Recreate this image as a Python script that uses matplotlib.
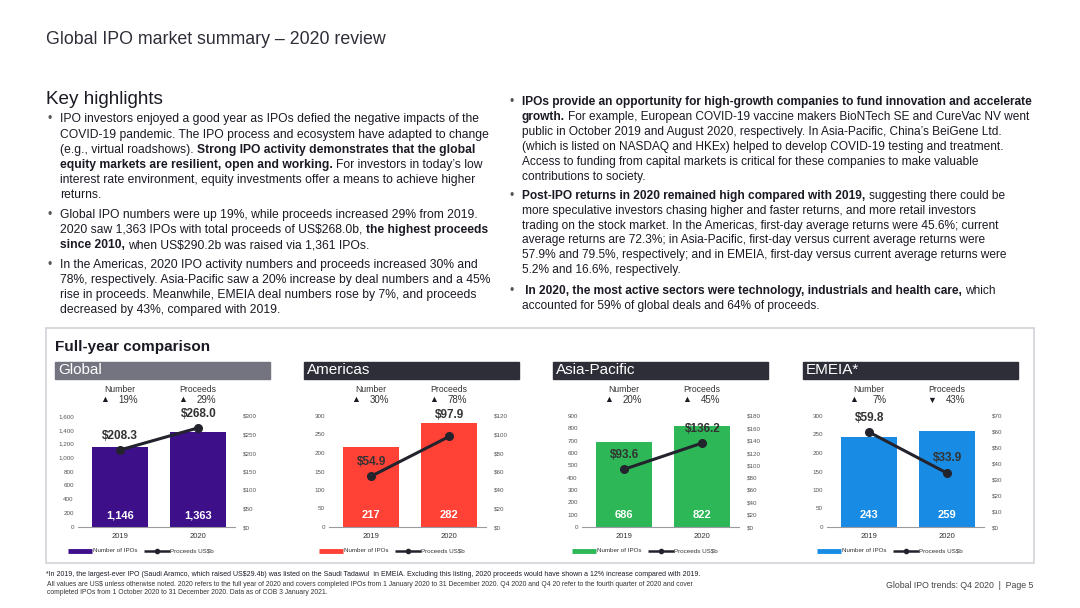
import matplotlib
matplotlib.use('Agg')
import matplotlib.pyplot as plt
from matplotlib.patches import Rectangle

plt.rcParams['font.family'] = ['Liberation Sans', 'DejaVu Sans']

# chart data
regions = ["Global", "Americas", "Asia-Pacific", "EMEIA*"]
years = ["2019", "2020"]
ipo_counts = [[1146, 1363], [217, 282], [686, 822], [243, 259]]
proceeds = [[208.3, 268.0], [54.9, 97.9], [93.6, 136.2], [59.8, 33.9]]
number_change = ["19%", "30%", "20%", "7%"]
number_up = [True, True, True, True]
proceeds_change = ["29%", "78%", "45%", "43%"]
proceeds_up = [True, True, True, False]
count_axis_max = [1600, 300, 900, 300]
count_axis_step = [200, 50, 100, 50]
usd_axis_max = [300, 120, 180, 70]
usd_axis_step = [50, 20, 20, 10]

bar_colors = ["#3d108a", "#ff4136", "#2db757", "#188ce5"]
header_colors = ["#747480", "#2e2e38", "#2e2e38", "#2e2e38"]
TEXT = "#1a1a24"
LINE = "#23232d"

# layout (pixels)
W, H = 1080, 608
centers = [120, 371, 624, 869]
header_left = [55, 304, 553, 803]
label_lift = [[14, 14], [14, 21], [14, 14], [14, 15]]

left_lines = [
    (119, True, [("IPO investors enjoyed a good year as IPOs defied the negative impacts of the", False)]),
    (135, False, [("COVID-19 pandemic. The IPO process and ecosystem have adapted to change", False)]),
    (150, False, [("(e.g., virtual roadshows).", False), ("Strong IPO activity demonstrates that the global", True)]),
    (165, False, [("equity markets are resilient, open and working.", True), ("For investors in today\u2019s low", False)]),
    (180, False, [("interest rate environment, equity investments offer a means to achieve higher", False)]),
    (195, False, [("returns.", False)]),
    (215, True, [("Global IPO numbers were up 19%, while proceeds increased 29% from 2019.", False)]),
    (230, False, [("2020 saw 1,363 IPOs with total proceeds of US$268.0b,", False), ("the highest proceeds", True)]),
    (245, False, [("since 2010,", True), ("when US$290.2b was raised via 1,361 IPOs.", False)]),
    (265, True, [("In the Americas, 2020 IPO activity numbers and proceeds increased 30% and", False)]),
    (280, False, [("78%, respectively. Asia-Pacific saw a 20% increase by deal numbers and a 45%", False)]),
    (295, False, [("rise in proceeds. Meanwhile, EMEIA deal numbers rose by 7%, and proceeds", False)]),
    (310, False, [("decreased by 43%, compared with 2019.", False)]),
]
right_lines = [
    (102, True, [("IPOs provide an opportunity for high-growth companies to fund innovation and accelerate", True)]),
    (117, False, [("growth.", True), ("For example, European COVID-19 vaccine makers BioNTech SE and CureVac NV went", False)]),
    (132, False, [("public in October 2019 and August 2020, respectively. In Asia-Pacific, China\u2019s BeiGene Ltd.", False)]),
    (147, False, [("(which is listed on NASDAQ and HKEx) helped to develop COVID-19 testing and treatment.", False)]),
    (162, False, [("Access to funding from capital markets is critical for these companies to make valuable", False)]),
    (177, False, [("contributions to society.", False)]),
    (196, True, [("Post-IPO returns in 2020 remained high compared with 2019,", True), ("suggesting there could be", False)]),
    (211, False, [("more speculative investors chasing higher and faster returns, and more retail investors", False)]),
    (226, False, [("trading on the stock market. In the Americas, first-day average returns were 45.6%; current", False)]),
    (240, False, [("average returns are 72.3%; in Asia-Pacific, first-day versus current average returns were", False)]),
    (255, False, [("57.9% and 79.5%, respectively; and in EMEIA, first-day versus current average returns were", False)]),
    (270, False, [("5.2% and 16.6%, respectively.", False)]),
    (291, True, [(" In 2020, the most active sectors were technology, industrials and health care,", True), ("which", False)]),
    (306, False, [("accounted for 59% of global deals and 64% of proceeds.", False)]),
]

fig = plt.figure(figsize=(W / 100, H / 100), dpi=100)
bg = fig.add_axes([0, 0, 1, 1])
bg.set_xlim(0, W)
bg.set_ylim(H, 0)
bg.axis('off')
renderer = fig.canvas.get_renderer()


def rich_line(x, y, parts, size):
    gap = 0.278 * size * 100 / 72
    for txt, bold in parts:
        t = bg.text(x, y, txt, fontsize=size, fontweight='bold' if bold else 'normal',
                    color=TEXT, va='center', ha='left')
        x += t.get_window_extent(renderer).width + gap


def text_block(lines, bullet_x, text_x, size):
    for y, bullet, parts in lines:
        if bullet:
            bg.text(bullet_x, y, "\u2022", fontsize=size, color='#555555', va='center', ha='left')
        rich_line(text_x, y, parts, size)


bg.text(46, 40, "Global IPO market summary \u2013 2020 review", fontsize=12.8, color='#2e2e38', va='center')
bg.text(46, 99, "Key highlights", fontsize=13.6, color=TEXT, va='center')
text_block(left_lines, 48, 60, 8.7)
text_block(right_lines, 510, 522, 8.6)

# comparison box
bg.add_patch(Rectangle((46, 328), 988, 235, fill=False, ec='#d5d5db', lw=1.3))
bg.text(55, 347, "Full-year comparison", fontsize=11, fontweight='bold', color=TEXT, va='center')

for k, region in enumerate(regions):
    c = centers[k]
    bg.add_patch(Rectangle((header_left[k], 362), 215, 17, color=header_colors[k]))
    bg.text(header_left[k] + 3, 370.5, region, fontsize=11, color='white', va='center')

    # change headers
    for j, (name, pct, up) in enumerate([("Number", number_change[k], number_up[k]),
                                         ("Proceeds", proceeds_change[k], proceeds_up[k])]):
        cx = c + 78 * j
        bg.text(cx, 390, name, fontsize=6.2, color='#333333', ha='center', va='center')
        bg.text(cx - 15, 400, "\u25b2" if up else "\u25bc", fontsize=6.5, color=TEXT, ha='center', va='center')
        bg.text(cx + 18, 400, pct, fontsize=7, color='#333333', ha='right', va='center')

    ax = fig.add_axes([(c - 42) / W, 1 - 527 / H, 157 / W, 111 / H])
    x = [0, 1]
    ax.bar(x, ipo_counts[k], width=0.72, color=bar_colors[k], zorder=2)
    ax.set_xlim(-0.54, 1.47)
    ax.set_ylim(0, count_axis_max[k])
    ticks = list(range(0, count_axis_max[k] + 1, count_axis_step[k]))
    ax.set_yticks(ticks)
    ax.set_yticklabels([f"{v:,}" for v in ticks])
    ax.tick_params(axis='y', length=0, labelsize=4.5, labelcolor='#555555', pad=3)
    ax.set_xticks(x)
    ax.set_xticklabels(years)
    ax.tick_params(axis='x', length=0, labelsize=5.5, labelcolor='#333333', pad=4)
    for s in ['top', 'right', 'left']:
        ax.spines[s].set_visible(False)
    ax.spines['bottom'].set_color('#9a9aa0')
    ax.spines['bottom'].set_linewidth(0.8)
    ax.patch.set_visible(False)
    for i, v in enumerate(ipo_counts[k]):
        ax.annotate(f"{v:,}", (i, 0), xytext=(0, 12), textcoords='offset pixels',
                    ha='center', va='center', fontsize=8, fontweight='bold', color='white')

    ax2 = ax.twinx()
    ax2.plot(x, proceeds[k], color=LINE, lw=2.2, marker='o', ms=5.5, zorder=3)
    ax2.set_ylim(0, usd_axis_max[k])
    uticks = list(range(0, usd_axis_max[k] + 1, usd_axis_step[k]))
    ax2.set_yticks(uticks)
    ax2.set_yticklabels([f"${v}" for v in uticks])
    ax2.tick_params(axis='y', length=0, labelsize=4.5, labelcolor='#555555', pad=6)
    for s in ['top', 'right', 'left', 'bottom']:
        ax2.spines[s].set_visible(False)
    for i, v in enumerate(proceeds[k]):
        ax2.annotate(f"${v:.1f}", (i, v), xytext=(0, label_lift[k][i]), textcoords='offset pixels',
                     ha='center', va='center', fontsize=8.5, fontweight='bold', color='#333333')

    # legend
    x0 = c - 52
    bg.plot([x0, x0 + 24], [551, 551], color=bar_colors[k], lw=3.5, solid_capstyle='butt')
    bg.text(x0 + 25, 551, "Number of IPOs", fontsize=4.5, color='#333333', va='center')
    bg.plot([x0 + 76, x0 + 102], [551, 551], color=LINE, lw=1.8, solid_capstyle='butt')
    bg.plot([x0 + 89], [551], marker='o', ms=3, color=LINE)
    bg.text(x0 + 102, 551, "Proceeds US$b", fontsize=4.5, color='#333333', va='center')

# footnotes
bg.text(46, 575, "*In 2019, the largest-ever IPO (Saudi Aramco, which raised US$29.4b) was listed on the Saudi Tadawul  in EMEIA. "
        "Excluding this listing, 2020 proceeds would have shown a 12% increase compared with 2019.",
        fontsize=5.0, color=TEXT, va='center')
bg.text(47, 584, "All values are US$ unless otherwise noted. 2020 refers to the full year of 2020 and covers completed IPOs from "
        "1 January 2020 to 31 December 2020. Q4 2020 and Q4 20 refer to the fourth quarter of 2020 and cover",
        fontsize=4.85, color='#333333', va='center')
bg.text(47, 593, "completed IPOs from 1 October 2020 to 31 December 2020. Data as of COB 3 January 2021.",
        fontsize=4.85, color='#333333', va='center')
bg.text(1033, 585, "Global IPO trends: Q4 2020  |  Page 5", fontsize=6.3, color='#444444', ha='right', va='center')

fig.savefig('out.png', dpi=100)
